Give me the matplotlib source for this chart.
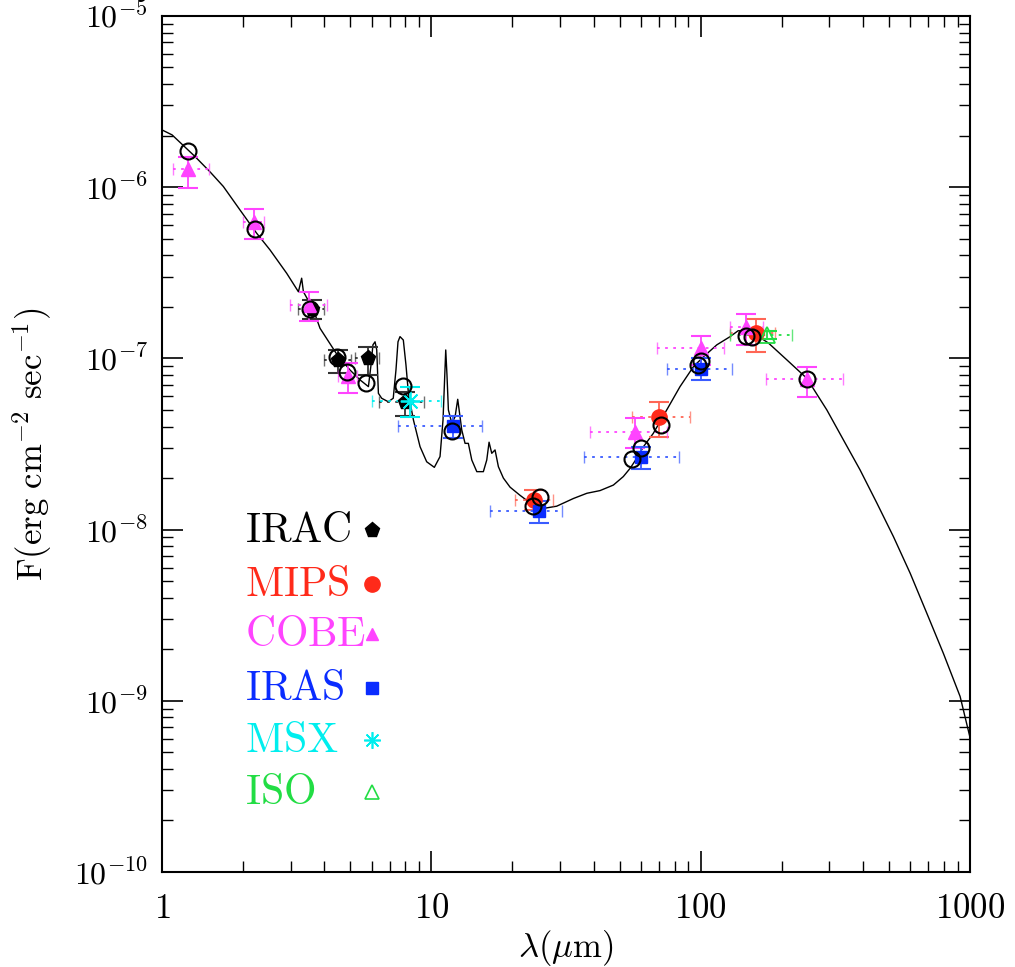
import matplotlib
matplotlib.use("Agg")
import matplotlib.pyplot as plt
from matplotlib.ticker import LogLocator, NullFormatter

plt.rcParams['mathtext.fontset'] = 'cm'
plt.rcParams['font.family'] = ['serif']
plt.rcParams['font.serif'] = ['DejaVu Serif']

# ---------------- data ----------------
# model SED curve
model_lam = [1.0, 1.09, 1.326, 1.507, 1.689, 1.948, 2.247, 2.518, 2.904, 3.21, 3.30, 3.35,
             3.65, 3.86, 4.47, 4.99, 5.44, 5.84, 5.97, 6.07, 6.18, 6.27, 6.36, 6.54, 6.92,
             7.22, 7.39, 7.52, 7.65, 7.87, 8.05, 8.22, 8.58, 9.08, 9.61, 10.26, 10.77, 11.05,
             11.31, 11.43, 11.57, 11.91, 12.25, 12.53, 12.97, 13.34, 13.72, 14.13, 14.75,
             15.6, 16.06, 16.38, 16.76, 17.24, 17.74, 18.51, 19.6, 21.3, 23.3, 26.1, 29.2,
             33.7, 37.8, 42.3, 47.4, 51.6, 54.7, 57.9, 61.3, 66.7, 74.8, 83.8, 94.0, 102.3,
             114.8, 128.6, 137.7, 146.0, 163.0, 178.4, 208.9, 247.7, 294.0, 338.8, 390.7,
             450.8, 519.5, 599.5, 691.5, 796.5, 918.7, 1000.0]
model_F = [2.16e-6, 2.02e-6, 1.51e-6, 1.23e-6, 1.01e-6, 7.36e-7, 5.38e-7, 4.30e-7, 3.14e-7,
           2.45e-7, 2.94e-7, 2.45e-7, 1.92e-7, 1.50e-7, 1.05e-7, 8.55e-8, 7.48e-8, 6.84e-8,
           9.15e-8, 1.20e-7, 1.25e-7, 1.12e-7, 6.25e-8, 5.85e-8, 5.58e-8, 5.85e-8, 8.55e-8,
           1.25e-7, 1.34e-7, 1.28e-7, 9.15e-8, 6.25e-8, 4.37e-8, 3.05e-8, 2.49e-8, 2.31e-8,
           2.67e-8, 4.37e-8, 1.12e-7, 8.0e-8, 5.0e-8, 4.18e-8, 4.56e-8, 5.77e-8, 3.82e-8,
           3.19e-8, 3.19e-8, 2.55e-8, 2.18e-8, 2.18e-8, 2.55e-8, 3.24e-8, 2.79e-8, 2.92e-8,
           2.33e-8, 2.0e-8, 1.77e-8, 1.59e-8, 1.43e-8, 1.33e-8, 1.37e-8, 1.52e-8, 1.63e-8,
           1.69e-8, 1.82e-8, 2.04e-8, 2.28e-8, 2.61e-8, 3.05e-8, 3.65e-8, 5.0e-8, 6.84e-8,
           8.95e-8, 1.02e-7, 1.20e-7, 1.34e-7, 1.45e-7, 1.45e-7, 1.35e-7, 1.23e-7, 9.8e-8,
           7.65e-8, 5.0e-8, 3.34e-8, 2.23e-8, 1.43e-8, 9.1e-9, 5.56e-9, 3.24e-9, 1.89e-9,
           1.06e-9, 6.1e-10]

# model photometry (open circles)
circ_lam = [1.25, 2.22, 3.55, 4.47, 4.86, 5.72, 7.85, 11.9, 23.9, 25.3, 55.6, 60.1, 71.3,
            97.8, 100.0, 147.0, 155.0, 248.0]
circ_F = [1.63e-6, 5.7e-7, 1.94e-7, 1.02e-7, 8.3e-8, 7.2e-8, 6.9e-8, 3.77e-8, 1.37e-8,
          1.55e-8, 2.58e-8, 3.0e-8, 4.08e-8, 9.15e-8, 9.66e-8, 1.36e-7, 1.33e-7, 7.58e-8]

# IRAC
irac_lam = [3.6, 4.5, 5.8, 8.0]
irac_F = [1.95e-7, 9.8e-8, 1.0e-7, 5.56e-8]
irac_Flo = [1.7e-7, 8.2e-8, 8.0e-8, 4.61e-8]
irac_Fhi = [2.2e-7, 1.12e-7, 1.17e-7, 6.37e-8]
irac_lamlo = [3.2, 4.0, 5.2, 6.4]
irac_lamhi = [4.0, 5.05, 6.4, 9.4]

# MIPS
mips_lam = [24.0, 70.0, 160.0]
mips_F = [1.49e-8, 4.55e-8, 1.41e-7]
mips_Flo = [1.3e-8, 3.47e-8, 1.09e-7]
mips_Fhi = [1.7e-8, 5.56e-8, 1.70e-7]
mips_lamlo = [20.5, 55.6, 128.6]
mips_lamhi = [28.4, 91.2, 188.0]

# COBE
cobe_lam = [1.25, 2.2, 3.5, 4.9, 56.9, 100.0, 147.0, 248.0]
cobe_F = [1.28e-6, 6.3e-7, 2.05e-7, 7.9e-8, 3.72e-8, 1.15e-7, 1.52e-7, 7.6e-8]
cobe_Flo = [9.9e-7, 4.98e-7, 1.65e-7, 6.28e-8, 3.0e-8, 9.1e-8, 1.2e-7, 5.96e-8]
cobe_Fhi = [1.50e-6, 7.46e-7, 2.44e-7, 9.4e-8, 4.49e-8, 1.35e-7, 1.82e-7, 8.9e-8]
cobe_lamlo = [1.10, 2.0, 2.99, 4.5, 38.8, 68.7, 128.0, 174.8]
cobe_lamhi = [1.495, 2.39, 4.10, 5.3, 75.0, 122.0, 170.0, 338.0]

# IRAS
iras_lam = [12.0, 25.0, 60.0, 100.0]
iras_F = [4.03e-8, 1.28e-8, 2.65e-8, 8.67e-8]
iras_Flo = [3.43e-8, 1.09e-8, 2.26e-8, 7.48e-8]
iras_Fhi = [4.6e-8, 1.47e-8, 3.03e-8, 1.0e-7]
iras_lamlo = [7.5, 16.5, 36.9, 75.0]
iras_lamhi = [15.4, 30.6, 83.2, 131.0]

# MSX
msx_lam = [8.3]
msx_F = [5.64e-8]
msx_Flo = [4.55e-8]
msx_Fhi = [6.8e-8]
msx_lamlo = [6.0]
msx_lamhi = [10.9]

# ISO
iso_lam = [176.0]
iso_F = [1.37e-7]
iso_Flo = [1.3e-7]
iso_Fhi = [1.45e-7]
iso_lamlo = [128.6]
iso_lamhi = [219.0]

xtick_vals = [1, 10, 100, 1000]
xtick_labels = [r'$1$', r'$10$', r'$100$', r'$1000$']
ytick_vals = [1e-10, 1e-9, 1e-8, 1e-7, 1e-6, 1e-5]
ytick_labels = [r'$10^{-10}$', r'$10^{-9}$', r'$10^{-8}$', r'$10^{-7}$', r'$10^{-6}$', r'$10^{-5}$']

legend_names = ['IRAC', 'MIPS', 'COBE', 'IRAS', 'MSX', 'ISO']

# ---------------- plot ----------------
fig = plt.figure(figsize=(10.15, 9.67), dpi=100)
ax = fig.add_axes([0.1596, 0.0982, 0.7961, 0.8853])
ax.set_xscale('log')
ax.set_yscale('log')
ax.set_xlim(1, 1000)
ax.set_ylim(1e-10, 1e-5)

ax.plot(model_lam, model_F, color='black', lw=1.0, zorder=2)

def draw(lam, F, Flo, Fhi, llo, lhi, color, ecolor, marker, ms, filled=True, mew=1.2):
    yerr = [[f - lo for f, lo in zip(F, Flo)], [hi - f for f, hi in zip(F, Fhi)]]
    xerr = [[l - lo for l, lo in zip(lam, llo)], [hi - l for l, hi in zip(lam, lhi)]]
    eb = ax.errorbar(lam, F, xerr=xerr, fmt='none', ecolor=ecolor, elinewidth=1.3,
                     capsize=4, capthick=1.0, zorder=3)
    for c in eb[2]:
        c.set_linestyle((0, (1.5, 3)))
    for c in eb[1]:
        c.set_alpha(0.7)
    ax.errorbar(lam, F, yerr=yerr, fmt='none', ecolor=ecolor, elinewidth=1.3,
                capsize=7, capthick=1.5, zorder=3)
    if filled:
        ax.plot(lam, F, ls='none', marker=marker, ms=ms, color=color, mec=color, zorder=4)
    else:
        ax.plot(lam, F, ls='none', marker=marker, ms=ms, mfc='none', mec=color, mew=mew, zorder=4)

c_irac = 'black'
c_mips = '#ff2a1a'
c_cobe = '#ff44ff'
c_iras = '#0a2cff'
c_msx = '#00eeee'
c_iso = '#22dd44'

draw(irac_lam, irac_F, irac_Flo, irac_Fhi, irac_lamlo, irac_lamhi, c_irac, '#333333', 'p', 11)
draw(mips_lam, mips_F, mips_Flo, mips_Fhi, mips_lamlo, mips_lamhi, c_mips, '#ff6655', 'o', 11)
draw(cobe_lam, cobe_F, cobe_Flo, cobe_Fhi, cobe_lamlo, cobe_lamhi, c_cobe, c_cobe, '^', 10)
draw(iras_lam, iras_F, iras_Flo, iras_Fhi, iras_lamlo, iras_lamhi, c_iras, '#3a5cff', 's', 9)
draw(msx_lam, msx_F, msx_Flo, msx_Fhi, msx_lamlo, msx_lamhi, c_msx, c_msx, (8, 2, 0), 14, filled=False, mew=1.3)
draw(iso_lam, iso_F, iso_Flo, iso_Fhi, iso_lamlo, iso_lamhi, c_iso, c_iso, '^', 11, filled=False, mew=1.3)

ax.plot(circ_lam, circ_F, ls='none', marker='o', ms=11.5, mfc='none', mec='black', mew=1.5, zorder=5)

# legend (text + symbol)
leg_colors = [c_irac, c_mips, c_cobe, c_iras, c_msx, c_iso]
leg_markers = ['p', 'o', '^', 's', (8, 2, 0), '^']
leg_filled = [True, True, True, True, False, False]
leg_ms = [11, 11, 9, 8, 12, 10]
leg_y = [0.3995, 0.336, 0.278, 0.215, 0.154, 0.0935]
for name, col, mk, fl, ms, yy in zip(legend_names, leg_colors, leg_markers, leg_filled, leg_ms, leg_y):
    ax.text(0.103, yy, r'$\mathrm{%s}$' % name, color=col, fontsize=30,
            transform=ax.transAxes, ha='left', va='center')
    if fl:
        ax.plot([0.26], [yy], marker=mk, ms=ms, color=col, transform=ax.transAxes,
                ls='none', clip_on=False)
    else:
        ax.plot([0.26], [yy], marker=mk, ms=ms, mfc='none', mec=col, mew=1.2,
                transform=ax.transAxes, ls='none', clip_on=False)

ax.set_xticks(xtick_vals)
ax.set_xticklabels(xtick_labels)
ax.set_yticks(ytick_vals)
ax.set_yticklabels(ytick_labels)
ax.xaxis.set_minor_locator(LogLocator(base=10, subs=range(2, 10), numticks=20))
ax.yaxis.set_minor_locator(LogLocator(base=10, subs=range(2, 10), numticks=20))
ax.xaxis.set_minor_formatter(NullFormatter())
ax.yaxis.set_minor_formatter(NullFormatter())
ax.tick_params(which='both', direction='in', top=True, right=True, labelsize=23)
ax.tick_params(which='major', length=15, width=1.2, pad=10)
ax.tick_params(which='minor', length=8, width=1.0)
ax.tick_params(axis='x', which='major', pad=14, labelsize=25)
for s in ax.spines.values():
    s.set_linewidth(1.5)

ax.set_xlabel(r'$\lambda(\mu\mathrm{m})$', fontsize=25, labelpad=2)
ax.set_ylabel(r'$\mathrm{F(erg\ cm^{-2}\ sec^{-1})}$', fontsize=25, labelpad=14)

fig.savefig('out.png', dpi=100)
